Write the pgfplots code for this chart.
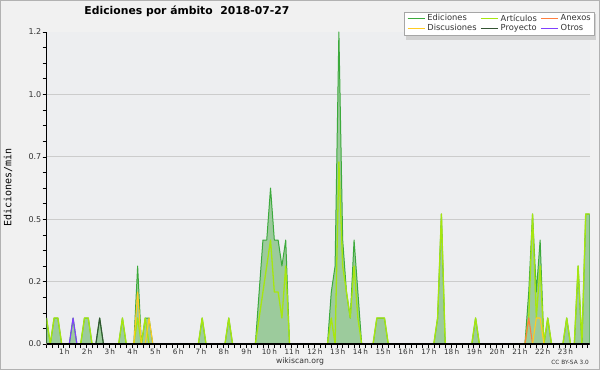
\documentclass[border=0pt]{standalone}
\usepackage{fontspec}
\setmainfont{DejaVu Sans}
\newfontfamily\monofont{DejaVu Sans Mono}
\usepackage{pgfplots}
\pgfplotsset{compat=1.18}
\usepackage{pgfplotstable}

\definecolor{bgout}{HTML}{F1F1F1}
\definecolor{bgplot}{HTML}{EDEEF0}
\definecolor{edline}{HTML}{3CAA3C}
\definecolor{edfill}{HTML}{9CCB9C}
\definecolor{artcol}{HTML}{A6E610}
\definecolor{ancol}{HTML}{FF7F3F}
\definecolor{dicol}{HTML}{FFCC22}
\definecolor{prcol}{HTML}{345434}
\definecolor{otcol}{HTML}{8040FF}
\definecolor{txt}{HTML}{333333}

\pgfplotstableread[row sep=\\]{
i ed art an di pr ot\\
0 0.1 0.1 0 0 0 0\\ 1 0 0 0 0 0 0\\ 2 0.1 0.1 0 0 0 0\\ 3 0.1 0.1 0 0 0 0\\
4 0 0 0 0 0 0\\ 5 0 0 0 0 0 0\\ 6 0 0 0 0 0 0\\ 7 0.1 0 0 0 0 0.1\\
8 0 0 0 0 0 0\\ 9 0 0 0 0 0 0\\ 10 0.1 0.1 0 0 0 0\\ 11 0.1 0.1 0 0 0 0\\
12 0 0 0 0 0 0\\ 13 0 0 0 0 0 0\\ 14 0.1 0 0 0 0.1 0\\ 15 0 0 0 0 0 0\\
16 0 0 0 0 0 0\\ 17 0 0 0 0 0 0\\ 18 0 0 0 0 0 0\\ 19 0 0 0 0 0 0\\
20 0.1 0.1 0 0 0 0\\ 21 0 0 0 0 0 0\\ 22 0 0 0 0 0 0\\ 23 0 0 0 0 0 0\\
24 0.3 0.1 0 0.2 0 0\\ 25 0 0 0 0 0 0\\ 26 0.1 0.1 0 0 0 0\\ 27 0.1 0 0 0.1 0 0\\
28 0 0 0 0 0 0\\ 29 0 0 0 0 0 0\\ 30 0 0 0 0 0 0\\ 31 0 0 0 0 0 0\\
32 0 0 0 0 0 0\\ 33 0 0 0 0 0 0\\ 34 0 0 0 0 0 0\\ 35 0 0 0 0 0 0\\
36 0 0 0 0 0 0\\ 37 0 0 0 0 0 0\\ 38 0 0 0 0 0 0\\ 39 0 0 0 0 0 0\\
40 0 0 0 0 0 0\\ 41 0.1 0.1 0 0 0 0\\ 42 0 0 0 0 0 0\\ 43 0 0 0 0 0 0\\
44 0 0 0 0 0 0\\ 45 0 0 0 0 0 0\\ 46 0 0 0 0 0 0\\ 47 0 0 0 0 0 0\\
48 0.1 0.1 0 0 0 0\\ 49 0 0 0 0 0 0\\ 50 0 0 0 0 0 0\\ 51 0 0 0 0 0 0\\
52 0 0 0 0 0 0\\ 53 0 0 0 0 0 0\\ 54 0 0 0 0 0 0\\ 55 0 0 0 0 0 0\\
56 0.2 0.1 0 0 0 0\\ 57 0.4 0.2 0 0 0 0\\ 58 0.4 0.3 0 0 0 0\\ 59 0.6 0.4 0 0 0 0\\
60 0.4 0.2 0 0 0 0\\ 61 0.4 0.2 0 0 0 0\\ 62 0.3 0.1 0 0 0 0\\ 63 0.4 0.3 0 0 0 0\\
64 0 0 0 0 0 0\\ 65 0 0 0 0 0 0\\ 66 0 0 0 0 0 0\\ 67 0 0 0 0 0 0\\
68 0 0 0 0 0 0\\ 69 0 0 0 0 0 0\\ 70 0 0 0 0 0 0\\ 71 0 0 0 0 0 0\\
72 0 0 0 0 0 0\\ 73 0 0 0 0 0 0\\ 74 0 0 0 0 0 0\\ 75 0.2 0.1 0 0 0 0\\
76 0.3 0 0 0 0 0\\ 77 1.2 0.7 0 0 0 0\\ 78 0.4 0.3 0 0 0 0\\ 79 0.2 0.2 0 0 0 0\\
80 0.1 0.1 0 0 0 0\\ 81 0.4 0.3 0 0 0 0\\ 82 0.2 0.1 0 0 0 0\\ 83 0 0 0 0 0 0\\
84 0 0 0 0 0 0\\ 85 0 0 0 0 0 0\\ 86 0 0 0 0 0 0\\ 87 0.1 0.1 0 0 0 0\\
88 0.1 0.1 0 0 0 0\\ 89 0.1 0.1 0 0 0 0\\ 90 0 0 0 0 0 0\\ 91 0 0 0 0 0 0\\
92 0 0 0 0 0 0\\ 93 0 0 0 0 0 0\\ 94 0 0 0 0 0 0\\ 95 0 0 0 0 0 0\\
96 0 0 0 0 0 0\\ 97 0 0 0 0 0 0\\ 98 0 0 0 0 0 0\\ 99 0 0 0 0 0 0\\
100 0 0 0 0 0 0\\ 101 0 0 0 0 0 0\\ 102 0 0 0 0 0 0\\ 103 0.1 0.1 0 0 0 0\\
104 0.5 0.5 0 0 0 0\\ 105 0 0 0 0 0 0\\ 106 0 0 0 0 0 0\\ 107 0 0 0 0 0 0\\
108 0 0 0 0 0 0\\ 109 0 0 0 0 0 0\\ 110 0 0 0 0 0 0\\ 111 0 0 0 0 0 0\\
112 0 0 0 0 0 0\\ 113 0.1 0.1 0 0 0 0\\ 114 0 0 0 0 0 0\\ 115 0 0 0 0 0 0\\
116 0 0 0 0 0 0\\ 117 0 0 0 0 0 0\\ 118 0 0 0 0 0 0\\ 119 0 0 0 0 0 0\\
120 0 0 0 0 0 0\\ 121 0 0 0 0 0 0\\ 122 0 0 0 0 0 0\\ 123 0 0 0 0 0 0\\
124 0 0 0 0 0 0\\ 125 0 0 0 0 0 0\\ 126 0 0 0 0 0 0\\ 127 0.2 0.1 0.1 0 0 0\\
128 0.5 0.5 0 0 0 0\\ 129 0.2 0.1 0 0.1 0 0\\ 130 0.4 0.3 0 0.1 0 0\\ 131 0 0 0 0 0 0\\
132 0.1 0.1 0 0 0 0\\ 133 0 0 0 0 0 0\\ 134 0 0 0 0 0 0\\ 135 0 0 0 0 0 0\\
136 0 0 0 0 0 0\\ 137 0.1 0.1 0 0 0 0\\ 138 0 0 0 0 0 0\\ 139 0 0 0 0 0 0\\
140 0.3 0.3 0 0 0 0\\ 141 0 0 0 0 0 0\\ 142 0.5 0.5 0 0 0 0\\ 143 0.5 0.5 0 0 0 0\\
}\data

\begin{document}
\begin{tikzpicture}[x=1pt,y=1pt]
\fill[bgout] (0,0) rectangle (600,370);
\draw[gray!60, line width=1pt] (0.5,0.5) rectangle (599.5,369.5);
\fill[bgplot] (46.5,26) rectangle (589.5,338);
\fill[black!18] (406,329.5) rectangle (596,356.3);
\begin{axis}[
  at={(46.5pt,26pt)}, anchor=south west,
  scale only axis, width=543pt, height=312pt,
  xmin=0, xmax=143, ymin=0, ymax=1.2,
  axis x line*=bottom, axis y line*=left,
  axis line style={black, line width=0.9pt},
  tick align=outside,
  xtick={6,12,...,138},
  xticklabel={\pgfmathtruncatemacro{\hh}{round(\tick/6)}\hh\,h},
  minor xtick={0,1.5,...,142.6},
  ytick={0,0.24,0.48,0.72,0.96,1.2},
  yticklabels={0.0,0.2,0.5,0.7,1.0,1.2},
  minor ytick={0,0.06,...,1.21},
  major tick length=4pt, minor tick length=4pt,
  every tick/.style={black, line width=0.6pt},
  extra y ticks={0.24,0.48,0.72,0.96},
  extra y tick labels={},
  extra y tick style={grid=major, major tick length=0pt},
  major grid style={draw=black!20, line width=0.8pt},
  x tick label style={font=\fontsize{7.3}{8}\selectfont, text=txt, xshift=-5pt, inner sep=1pt},
  y tick label style={font=\fontsize{8}{9}\selectfont, text=txt, inner sep=1pt},
  title={Ediciones por ámbito\hspace{0.7em}2018-07-27},
  title style={at={(axis description cs:0.2587,1.048)}, anchor=center, font=\bfseries\fontsize{10.8}{12}\selectfont, inner sep=0pt},
  ylabel={Ediciones/min},
  ylabel style={at={(axis description cs:-0.0709,0.5016)}, anchor=center, font=\monofont\fontsize{10}{11}\selectfont, inner sep=0pt},
  legend columns=3,
  legend cell align=left,
  legend style={at={(axis description cs:1,1)}, anchor=north east, xshift=4.5pt, yshift=20.3pt,
    draw=gray!70, fill=white, font=\fontsize{8.3}{10}\selectfont, text=txt,
    inner xsep=2.5pt, inner ysep=2pt, row sep=0.5pt,
    nodes={inner sep=0.6pt},
    /tikz/every odd column/.append style={column sep=1.5pt},
    /tikz/every even column/.append style={column sep=3pt}},
  no markers, line join=round,
]
\addplot[color=edline, fill=edfill, line width=1pt] table[x=i,y=ed]{\data} \closedcycle;
\addlegendentry{Ediciones}
\addplot[color=artcol, line width=1.3pt] table[x=i,y=art]{\data};
\addlegendentry{Artículos}
\addplot[color=ancol, line width=1.1pt] table[x=i,y=an]{\data};
\addlegendentry{Anexos}
\addplot[color=dicol, line width=1.1pt] table[x=i,y=di]{\data};
\addlegendentry{Discusiones}
\addplot[color=prcol, line width=1.1pt] table[x=i,y=pr]{\data};
\addlegendentry{Proyecto}
\addplot[color=otcol, line width=1.1pt] table[x=i,y=ot]{\data};
\addlegendentry{Otros}
\draw[black, line width=1.2pt] (rel axis cs:0,0) -- (rel axis cs:1,0);
\end{axis}
\node[font=\fontsize{7.7}{9}\selectfont, text=txt] at (300,9) {wikiscan.org};
\node[font=\fontsize{5.8}{7}\selectfont, text=txt, anchor=east, inner sep=0pt] at (589,8) {CC BY-SA 3.0};
\pgfresetboundingbox
\useasboundingbox (0,0) rectangle (600,370);
\end{tikzpicture}
\end{document}
